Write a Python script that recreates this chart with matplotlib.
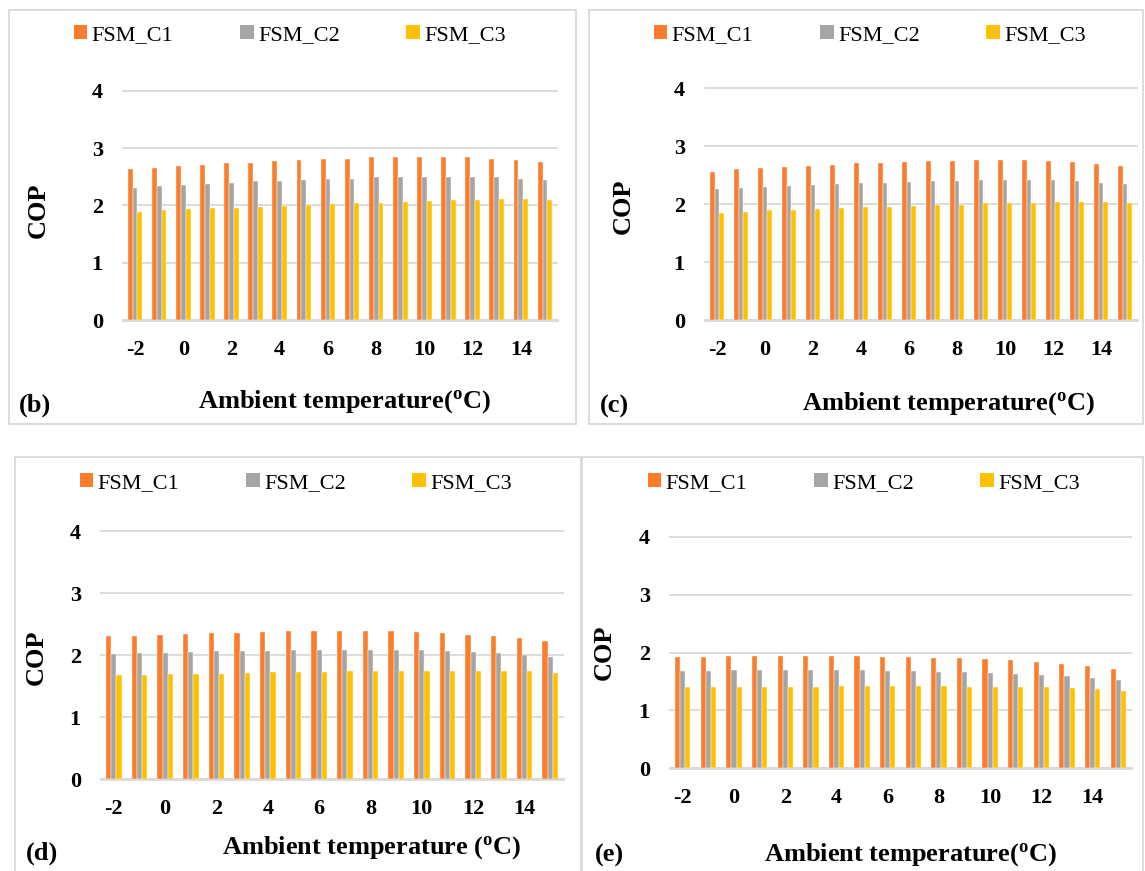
import numpy as np
import matplotlib
matplotlib.use("Agg")
import matplotlib.pyplot as plt
from matplotlib.patches import Rectangle, Patch

plt.rcParams['font.family'] = ['Liberation Serif', 'DejaVu Serif']
plt.rcParams['mathtext.fontset'] = 'custom'
plt.rcParams['mathtext.rm'] = 'Liberation Serif:bold'
plt.rcParams['mathtext.it'] = 'Liberation Serif:bold'
plt.rcParams['mathtext.bf'] = 'Liberation Serif:bold'

# ambient temperatures (degC), one bar group each
temps = list(range(-2, 16))
tick_temps = list(range(-2, 16, 2))
series = ['FSM_C1', 'FSM_C2', 'FSM_C3']
colors = ['#FB7D2B', '#A5A5A5', '#FFC000']

# COP values per configuration
b_c1 = [2.63, 2.66, 2.69, 2.71, 2.74, 2.75, 2.78, 2.80, 2.81, 2.82, 2.84, 2.84, 2.85, 2.85, 2.84, 2.82, 2.80, 2.76]
b_c2 = [2.31, 2.34, 2.36, 2.38, 2.40, 2.42, 2.43, 2.44, 2.46, 2.47, 2.49, 2.49, 2.50, 2.50, 2.50, 2.49, 2.47, 2.44]
b_c3 = [1.89, 1.92, 1.94, 1.95, 1.96, 1.98, 1.99, 2.01, 2.02, 2.04, 2.05, 2.06, 2.08, 2.09, 2.10, 2.11, 2.11, 2.09]

c_c1 = [2.56, 2.60, 2.62, 2.64, 2.66, 2.68, 2.70, 2.71, 2.72, 2.74, 2.74, 2.75, 2.75, 2.75, 2.74, 2.72, 2.69, 2.65]
c_c2 = [2.25, 2.27, 2.29, 2.31, 2.33, 2.34, 2.36, 2.37, 2.38, 2.39, 2.40, 2.41, 2.41, 2.41, 2.41, 2.39, 2.37, 2.34]
c_c3 = [1.85, 1.87, 1.89, 1.90, 1.92, 1.93, 1.94, 1.95, 1.97, 1.98, 1.99, 2.01, 2.02, 2.02, 2.03, 2.03, 2.03, 2.02]

d_c1 = [2.30, 2.31, 2.33, 2.34, 2.35, 2.36, 2.37, 2.38, 2.38, 2.38, 2.38, 2.38, 2.37, 2.35, 2.33, 2.30, 2.27, 2.22]
d_c2 = [2.01, 2.03, 2.04, 2.05, 2.06, 2.06, 2.07, 2.08, 2.08, 2.08, 2.08, 2.08, 2.08, 2.06, 2.05, 2.03, 2.00, 1.96]
d_c3 = [1.67, 1.68, 1.69, 1.69, 1.70, 1.71, 1.72, 1.72, 1.73, 1.74, 1.75, 1.75, 1.75, 1.75, 1.75, 1.75, 1.74, 1.71]

e_c1 = [1.93, 1.93, 1.94, 1.94, 1.94, 1.94, 1.94, 1.94, 1.93, 1.93, 1.91, 1.90, 1.88, 1.87, 1.84, 1.80, 1.77, 1.71]
e_c2 = [1.68, 1.68, 1.69, 1.69, 1.69, 1.69, 1.69, 1.69, 1.68, 1.68, 1.67, 1.66, 1.65, 1.63, 1.61, 1.59, 1.56, 1.52]
e_c3 = [1.41, 1.41, 1.41, 1.41, 1.41, 1.41, 1.42, 1.42, 1.42, 1.42, 1.42, 1.41, 1.41, 1.41, 1.40, 1.39, 1.37, 1.34]

W, H = 1145, 871
fig = plt.figure(figsize=(W / 100, H / 100), dpi=100)
fig.patch.set_facecolor('white')


def fx(px):
    return px / W


def fy(py):
    return 1 - py / H


# layout of each panel in pixels:
# frame box, plot box (left, y of 4, right, y of 0), legend anchor,
# COP x, xlabel centre, letter position
panels = [
    dict(data=(b_c1, b_c2, b_c3), letter='(b)', frame=(9, 10, 576, 424),
         plot=(123, 91, 557, 320), leg=(74, 35), cop=(38, 210),
         xlab=(344, 402, 'Ambient temperature($^{\\mathrm{o}}$C)'), let=(35, 405)),
    dict(data=(c_c1, c_c2, c_c3), letter='(c)', frame=(589, 10, 1143, 424),
         plot=(705, 88, 1137, 320), leg=(654, 35), cop=(623, 206),
         xlab=(948, 404, 'Ambient temperature($^{\\mathrm{o}}$C)'), let=(614, 406)),
    dict(data=(d_c1, d_c2, d_c3), letter='(d)', frame=(15, 457, 581, 880),
         plot=(101, 531, 563, 779), leg=(80, 483), cop=(36, 657),
         xlab=(372, 848, 'Ambient temperature ($^{\\mathrm{o}}$C)'), let=(42, 853)),
    dict(data=(e_c1, e_c2, e_c3), letter='(e)', frame=(582, 457, 1143, 880),
         plot=(670, 537, 1131, 768), leg=(648, 483), cop=(604, 652),
         xlab=(910, 855, 'Ambient temperature($^{\\mathrm{o}}$C)'), let=(609, 855)),
]

grid_col = '#D9D9D9'
x = np.arange(len(temps))
bw = 0.2

for p in panels:
    x0, y0, x1, y1 = p['frame']
    fig.patches.append(Rectangle((fx(x0), fy(y1)), fx(x1 - x0), (y1 - y0) / H,
                                 transform=fig.transFigure, fill=False,
                                 edgecolor=grid_col, linewidth=1.3, zorder=0))

    l, t, r, b = p['plot']
    ax = fig.add_axes([fx(l), fy(b), fx(r - l), (b - t) / H])
    for i, vals in enumerate(p['data']):
        ax.bar(x + (i - 1) * bw, vals, width=bw, color=colors[i],
               edgecolor='white', linewidth=0.3, label=series[i], zorder=3)

    ax.set_xlim(-0.5, len(temps) - 0.5)
    ax.set_ylim(0, 4)
    ax.set_yticks([0, 1, 2, 3, 4])
    ax.set_xticks([temps.index(t) for t in tick_temps])
    ax.set_xticklabels([str(t) for t in tick_temps])
    ax.tick_params(length=0, labelsize=16, pad=14.5)
    for lab in ax.get_xticklabels() + ax.get_yticklabels():
        lab.set_fontweight('bold')
    ax.yaxis.grid(True, color=grid_col, linewidth=1.3, zorder=0)
    for gl in ax.get_ygridlines():
        gl.set_clip_on(False)
    for s in ['top', 'right', 'left']:
        ax.spines[s].set_visible(False)
    ax.spines['bottom'].set_color(grid_col)
    ax.spines['bottom'].set_linewidth(2)
    ax.set_axisbelow(True)

    handles = [Patch(facecolor=c, edgecolor='none') for c in colors]
    ax.legend(handles, series, loc='center left',
              bbox_to_anchor=(fx(p['leg'][0]), fy(p['leg'][1])),
              bbox_transform=fig.transFigure, ncol=3, frameon=False,
              fontsize=16, borderpad=0, borderaxespad=0,
              handlelength=0.6, handleheight=0.6, handletextpad=0.2,
              columnspacing=3.0)

    fig.text(fx(p['cop'][0]), fy(p['cop'][1]), 'COP', rotation=90,
             ha='center', va='center', fontsize=19, fontweight='bold')
    xl, yl, txt = p['xlab']
    fig.text(fx(xl), fy(yl), txt, ha='center', va='center',
             fontsize=19, fontweight='bold')
    fig.text(fx(p['let'][0]), fy(p['let'][1]), p['letter'], ha='center',
             va='center', fontsize=19, fontweight='bold')

fig.savefig('out.png', dpi=100, facecolor='white')
